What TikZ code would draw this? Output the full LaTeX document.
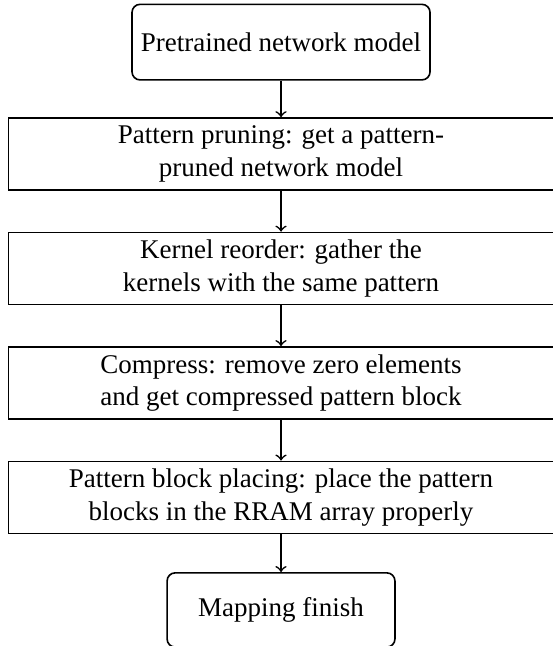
\documentclass[tikz,border=0pt]{standalone}
\usepackage{fontspec}
\setmainfont{Liberation Serif}
\usetikzlibrary{positioning}

\begin{document}
\begin{tikzpicture}[
  node distance=15.1pt,
  term/.style={draw, semithick, rounded corners=3pt, align=center, minimum height=28pt, inner sep=1pt, font=\normalsize},
  stepbox/.style={draw, semithick, align=center, minimum width=202pt, minimum height=26.7pt, inner sep=1pt, font=\normalsize},
  arr/.style={->, semithick}
]
\useasboundingbox (0,0) rectangle (204.8pt,-239.3pt);
\node[term, minimum width=110.4pt] (pretrained) at (104.1pt,-15.6pt) {Pretrained network model};
\node[stepbox, below=13.5pt of pretrained] (pruning) {Pattern pruning: get a pattern-\\pruned network model};
\node[stepbox, below=of pruning] (reorder) {Kernel reorder: gather the\\kernels with the same pattern};
\node[stepbox, below=of reorder] (compress) {Compress: remove zero elements\\and get compressed pattern block};
\node[stepbox, below=of compress] (placing) {Pattern block placing: place the pattern\\blocks in the RRAM array properly};
\node[term, minimum width=84.4pt, minimum height=27.5pt, below=14pt of placing] (finish) {Mapping finish};
\draw[arr] (pretrained) -- (pruning);
\draw[arr] (pruning) -- (reorder);
\draw[arr] (reorder) -- (compress);
\draw[arr] (compress) -- (placing);
\draw[arr] (placing) -- (finish);
\end{tikzpicture}
\end{document}
